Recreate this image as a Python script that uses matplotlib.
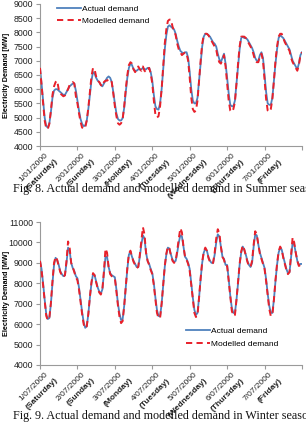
import numpy as np
import matplotlib
matplotlib.use("Agg")
import matplotlib.pyplot as plt

# ------------------------------------------------------------------
# Data: hourly demand (MW), 7 days, last value closes the week
# ------------------------------------------------------------------
summer_dates = ["1/01/2000", "2/01/2000", "3/01/2000", "4/01/2000",
                "5/01/2000", "6/01/2000", "7/01/2000"]
summer_days = ["(Saturday)", "(Sunday)", "(Holiday)", "(Tuesday)",
               "(Wednesday)", "(Thursday)", "(Friday)"]
winter_dates = ["1/07/2000", "2/07/2000", "3/07/2000", "4/07/2000",
                "5/07/2000", "6/07/2000", "7/07/2000"]
winter_days = ["(Saturday)", "(Sunday)", "(Monday)", "(Tuesday)",
               "(Wednesday)", "(Thursday)", "(Friday)"]

summer_actual = [
    6750, 6200, 5600, 5000, 4700, 4650, 4800, 5200, 5700, 5950, 6000, 6000,
    5950, 5900, 5850, 5800, 5800, 5900, 6000, 6100, 6150, 6200, 6200, 5950,
    5600, 5250, 4950, 4780, 4700, 4720, 4900, 5300, 5800, 6300, 6600, 6550,
    6400, 6300, 6250, 6150, 6100, 6200, 6300, 6400, 6450, 6400, 6250, 5900,
    5500, 5150, 4950, 4900, 4900, 4980, 5350, 5900, 6400, 6750, 6900, 6850,
    6700, 6650, 6650, 6700, 6700, 6700, 6750, 6700, 6700, 6750, 6750, 6600,
    6300, 5800, 5400, 5300, 5280, 5500, 6000, 6700, 7400, 7900, 8200, 8250,
    8200, 8150, 8100, 7950, 7700, 7500, 7350, 7300, 7250, 7300, 7300, 7100,
    6600, 6000, 5600, 5500, 5500, 5700, 6300, 6900, 7500, 7850, 7950, 7950,
    7900, 7850, 7750, 7650, 7600, 7500, 7250, 7050, 6950, 7100, 7250, 6900,
    6400, 5850, 5450, 5400, 5400, 5600, 6200, 6800, 7400, 7800, 7850, 7800,
    7800, 7750, 7650, 7550, 7450, 7300, 7100, 7000, 7000, 7200, 7300, 7100,
    6500, 5900, 5500, 5450, 5450, 5700, 6300, 6900, 7400, 7800, 7900, 7850,
    7800, 7700, 7600, 7500, 7400, 7200, 7000, 6900, 6800, 6700, 6900, 7200,
    7300,
]
summer_model = [
    6750, 6150, 5500, 4900, 4620, 4600, 4780, 5250, 5800, 6100, 6250, 6300,
    6000, 5850, 5800, 5750, 5780, 5900, 6000, 6150, 6200, 6250, 6200, 5750,
    5500, 5150, 4850, 4650, 4600, 4650, 4900, 5350, 5900, 6450, 6750, 6700,
    6450, 6300, 6250, 6150, 6100, 6250, 6300, 6300, 6350, 6350, 6250, 5850,
    5400, 5050, 4800, 4750, 4800, 4950, 5400, 6000, 6500, 6850, 6950, 6900,
    6700, 6600, 6700, 6800, 6700, 6650, 6800, 6650, 6600, 6700, 6750, 6550,
    6200, 5600, 5100, 5000, 5050, 5400, 6000, 6800, 7600, 8100, 8400, 8450,
    8450, 8200, 8050, 7900, 7600, 7400, 7300, 7200, 7250, 7300, 7250, 7000,
    6400, 5700, 5300, 5200, 5250, 5600, 6300, 7000, 7600, 7900, 7950, 7950,
    7900, 7800, 7700, 7600, 7500, 7400, 7100, 6950, 6900, 7050, 7200, 6800,
    6200, 5600, 5250, 5200, 5300, 5550, 6200, 6900, 7500, 7850, 7850, 7850,
    7800, 7700, 7600, 7500, 7400, 7200, 7000, 6950, 6950, 7150, 7250, 7000,
    6300, 5650, 5250, 5200, 5300, 5650, 6300, 7000, 7500, 7850, 7950, 7950,
    7800, 7650, 7550, 7450, 7350, 7100, 6950, 6850, 6750, 6650, 6850, 7200,
    7300,
]

winter_actual = [
    9100, 8700, 8000, 7200, 6500, 6250, 6300, 7000, 8000, 8900, 9250, 9150,
    8900, 8600, 8450, 8350, 8400, 9000, 9750, 9600, 9000, 8750, 8600, 8350,
    8250, 7800, 7200, 6600, 6100, 5820, 5900, 6500, 7300, 8000, 8450, 8400,
    8100, 7800, 7600, 7500, 7700, 8500, 9300, 9300, 8800, 8500, 8400, 8350,
    8300, 7700, 7000, 6500, 6200, 6250, 6900, 7800, 8700, 9400, 9550, 9300,
    9100, 8950, 8800, 8800, 9300, 9900, 10350, 10200, 9500, 9100, 8950, 8700,
    8500, 8000, 7300, 6700, 6400, 6380, 7000, 7900, 8800, 9400, 9750, 9700,
    9400, 9150, 9050, 9100, 9500, 10000, 10350, 10300, 9800, 9300, 9200, 9000,
    8700, 8000, 7300, 6700, 6450, 6550, 7300, 8200, 9000, 9500, 9700, 9600,
    9300, 9100, 9000, 9000, 9400, 10000, 10400, 10300, 9800, 9300, 9200, 8900,
    8900, 8200, 7400, 6800, 6550, 6550, 7200, 8000, 8900, 9500, 9800, 9650,
    9400, 9100, 8900, 8800, 9000, 9800, 10400, 10350, 9900, 9500, 9250, 9000,
    8750, 8200, 7500, 6900, 6550, 6550, 7200, 8100, 8900, 9500, 9750, 9650,
    9300, 9000, 8700, 8500, 8550, 9300, 10000, 9900, 9500, 9100, 8900, 8950,
    8950,
]
winter_model = [
    9100, 8650, 7900, 7100, 6400, 6200, 6300, 7050, 8100, 9000, 9300, 9150,
    8850, 8550, 8400, 8300, 8400, 9100, 10050, 9750, 9000, 8800, 8550, 8300,
    8150, 7700, 7100, 6500, 6000, 5800, 5900, 6500, 7350, 8050, 8500, 8400,
    8050, 7750, 7550, 7450, 7700, 8600, 9700, 9500, 8800, 8450, 8350, 8300,
    8250, 7600, 6900, 6350, 6050, 6150, 6900, 7850, 8750, 9450, 9600, 9300,
    9050, 8900, 8750, 8800, 9400, 10100, 10750, 10400, 9500, 9100, 8900, 8650,
    8450, 7900, 7200, 6550, 6300, 6300, 7000, 7950, 8850, 9450, 9800, 9700,
    9350, 9100, 9000, 9100, 9600, 10200, 10700, 10500, 9800, 9300, 9150, 8950,
    8600, 7900, 7150, 6550, 6350, 6450, 7300, 8250, 9050, 9550, 9750, 9600,
    9250, 9050, 8950, 9000, 9500, 10200, 10650, 10450, 9800, 9300, 9150, 8850,
    8850, 8100, 7300, 6650, 6400, 6450, 7200, 8050, 8950, 9550, 9850, 9650,
    9350, 9050, 8850, 8800, 9100, 9900, 10550, 10400, 9900, 9450, 9200, 8950,
    8700, 8100, 7400, 6750, 6400, 6450, 7200, 8150, 8950, 9550, 9800, 9650,
    9250, 8950, 8650, 8450, 8550, 9400, 10250, 10000, 9500, 9100, 8850, 8900,
    8900,
]

BLUE = "#4F81BD"
RED = "#E8202A"
AXIS = "#9A9A9A"


def draw_panel(ax, actual, model, dates, days, yticks, legend_anchor):
    t = np.arange(len(actual)) / 24.0
    ax.plot(t, actual, color=BLUE, lw=1.3, label="Actual demand", zorder=2)
    ax.plot(t, model, color=RED, lw=1.4, ls=(0, (3.2, 2.2)),
            label="Modelled demand", zorder=3)

    ax.set_xlim(0, 7)
    ax.set_ylim(yticks[0], yticks[-1])
    ax.set_yticks(yticks)
    ax.set_xticks(range(8))
    ax.set_xticklabels([])
    ax.tick_params(axis="both", colors=AXIS, length=3, width=0.8,
                   labelsize=6.3, labelcolor="#222222", pad=2)
    for side in ("top", "right"):
        ax.spines[side].set_visible(False)
    for side in ("left", "bottom"):
        ax.spines[side].set_color(AXIS)
        ax.spines[side].set_linewidth(0.8)

    # two-line rotated date labels, second line bold
    for i in range(7):
        ax.annotate(dates[i], xy=(i, 0), xycoords=("data", "axes fraction"),
                    xytext=(3, -4), textcoords="offset points",
                    rotation=45, rotation_mode="anchor", ha="right", va="top",
                    fontsize=6, color="#222222")
        ax.annotate(days[i], xy=(i, 0), xycoords=("data", "axes fraction"),
                    xytext=(10, -8.5), textcoords="offset points",
                    rotation=45, rotation_mode="anchor", ha="right", va="top",
                    fontsize=6, fontweight="bold", color="#222222")

    ax.set_ylabel("Electricity Demand [MW]", fontsize=5.2, fontweight="bold")
    ax.yaxis.set_label_coords(-0.116, 0.5)
    ax.legend(loc="upper left", bbox_to_anchor=legend_anchor, frameon=False,
              fontsize=6, handlelength=2.9, handletextpad=0.1,
              labelspacing=0.6, borderpad=0, borderaxespad=0)


def main():
    plt.rcParams["font.family"] = ["Liberation Sans", "DejaVu Sans"]
    fig = plt.figure(figsize=(3.06, 4.37), dpi=100)

    ax1 = fig.add_axes([0.1307, 0.6659, 0.8562, 0.325])
    draw_panel(ax1, summer_actual, summer_model, summer_dates, summer_days,
               list(range(4000, 9001, 500)), (0.065, 0.995))

    ax2 = fig.add_axes([0.1307, 0.1648, 0.8562, 0.327])
    draw_panel(ax2, winter_actual, winter_model, winter_dates, winter_days,
               list(range(4000, 11001, 1000)), (0.557, 0.262))

    # captions run past the right edge, as in the scanned page
    cap = dict(fontsize=8.7, family=["Liberation Serif", "DejaVu Serif"],
               ha="left", va="center", color="#111111")
    fig.text(0.042, 0.5675,
             "Fig. 8. Actual demand and modelled demand in Summer season.", **cap)
    fig.text(0.042, 0.048,
             "Fig. 9. Actual demand and modelled demand in Winter season.", **cap)

    fig.savefig("out.png", dpi=100, facecolor="white")


if __name__ == "__main__":
    main()
